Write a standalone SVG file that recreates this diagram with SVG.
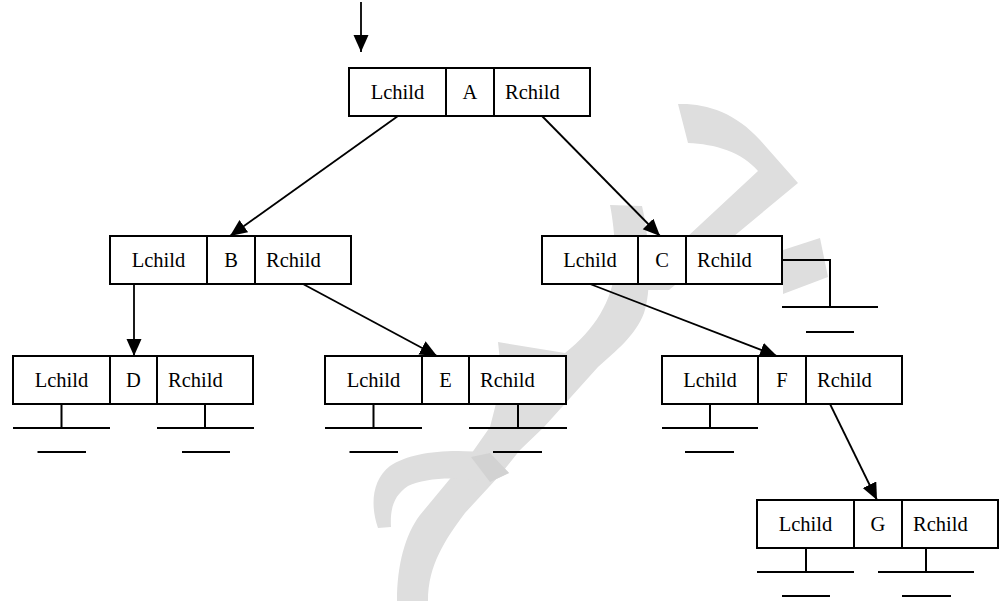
<svg xmlns="http://www.w3.org/2000/svg" width="1003" height="601" viewBox="0 0 1003 601">
<style>
.box{fill:#fff;stroke:#000;stroke-width:2}
.ln{stroke:#000;stroke-width:2;fill:none}
.gnd{stroke:#000;stroke-width:2;fill:none}
.t{font-family:"Liberation Serif","Times New Roman",serif;font-size:20.5px;fill:#000}
.m{text-anchor:middle}
.wm{fill:#dedede;stroke:none}
.edge{stroke:#000;stroke-width:1.8;fill:none;marker-end:url(#ah)}
</style>
<defs>
<marker id="ah" markerUnits="userSpaceOnUse" markerWidth="18" markerHeight="16" refX="17" refY="7.5" orient="auto">
<path d="M0,0 L17,7.5 L0,15 Z" fill="#000"/>
</marker>
</defs>
<rect width="1003" height="601" fill="#fff"/>
<g id="watermark">
<path class="wm" d="M678 104 C705 103 735 112 760 140 L798 183 L669 290 L630 290 L758 171 C742 152 715 144 688 143 Z"/>
<path class="wm" d="M610 205 L642 206 C650 240 652 290 644 313 C636 335 615 352 598 367 L544 427 L520 450 L500 475 L465 513 C445 540 428 565 428 601 L397 601 C397 565 405 535 420 515 L449 480 L469 457 L490 427 L502 380 L498 342 L565 353 C595 330 612 300 615 270 C616 245 613 220 610 205 Z"/>
<path class="wm" d="M378 528 C370 505 372 480 390 466 C410 452 450 448 490 453 L509 473 L490 482 C455 476 425 478 408 486 C393 496 390 510 391 527 Z"/>
<path fill="#d2d2d2" d="M471 457 L490 453 L509 473 L490 482 Z"/>
<path class="wm" d="M783 250 L820 238 L828 277 L783 294 Z"/>
</g>
<g id="connectors">
<line class="edge" x1="361" y1="2" x2="361" y2="52"/>
<line class="edge" x1="398" y1="116" x2="230" y2="236"/>
<line class="edge" x1="542" y1="116" x2="660" y2="236"/>
<line class="edge" x1="134" y1="284" x2="134" y2="356"/>
<line class="edge" x1="303" y1="284" x2="437" y2="356"/>
<line class="edge" x1="590" y1="284" x2="777" y2="356"/>
<line class="edge" x1="830" y1="404" x2="877" y2="500"/>
</g>
<g id="nodeA" transform="translate(349,68)">
<rect class="box" x="0" y="0" width="241" height="48"/>
<line class="ln" x1="97" y1="0" x2="97" y2="48"/><line class="ln" x1="145" y1="0" x2="145" y2="48"/>
<text class="t m" x="48.5" y="31">Lchild</text><text class="t m" x="121" y="31">A</text><text class="t" x="156" y="31">Rchild</text>
</g>
<g id="nodeB" transform="translate(110,236)">
<rect class="box" x="0" y="0" width="241" height="48"/>
<line class="ln" x1="97" y1="0" x2="97" y2="48"/><line class="ln" x1="145" y1="0" x2="145" y2="48"/>
<text class="t m" x="48.5" y="31">Lchild</text><text class="t m" x="121" y="31">B</text><text class="t" x="156" y="31">Rchild</text>
</g>
<g id="nodeC" transform="translate(542,236)">
<rect class="box" x="0" y="0" width="240" height="48"/>
<line class="ln" x1="96" y1="0" x2="96" y2="48"/><line class="ln" x1="144" y1="0" x2="144" y2="48"/>
<text class="t m" x="48" y="31">Lchild</text><text class="t m" x="120" y="31">C</text><text class="t" x="155" y="31">Rchild</text>
<path class="gnd" d="M240 24 H288 V71 M240 71 H336 M264 96 H312"/>
</g>
<g id="nodeD" transform="translate(13,356)">
<rect class="box" x="0" y="0" width="240" height="48"/>
<line class="ln" x1="97" y1="0" x2="97" y2="48"/><line class="ln" x1="144" y1="0" x2="144" y2="48"/>
<text class="t m" x="48.5" y="31">Lchild</text><text class="t m" x="120.5" y="31">D</text><text class="t" x="155" y="31">Rchild</text>
<path class="gnd" d="M48.5 48 V72 M0 72 H97 M24.5 96 H73 M192 48 V72 M144 72 H241 M169 96 H217"/>
</g>
<g id="nodeE" transform="translate(325,356)">
<rect class="box" x="0" y="0" width="241" height="48"/>
<line class="ln" x1="97" y1="0" x2="97" y2="48"/><line class="ln" x1="144" y1="0" x2="144" y2="48"/>
<text class="t m" x="48.5" y="31">Lchild</text><text class="t m" x="120.5" y="31">E</text><text class="t" x="155" y="31">Rchild</text>
<path class="gnd" d="M48.5 48 V72 M0 72 H97 M24.5 96 H73 M193 48 V72 M144 72 H242 M168 96 H217"/>
</g>
<g id="nodeF" transform="translate(662,356)">
<rect class="box" x="0" y="0" width="240" height="48"/>
<line class="ln" x1="96" y1="0" x2="96" y2="48"/><line class="ln" x1="144" y1="0" x2="144" y2="48"/>
<text class="t m" x="48" y="31">Lchild</text><text class="t m" x="120" y="31">F</text><text class="t" x="155" y="31">Rchild</text>
<path class="gnd" d="M48 48 V72 M0 72 H96 M23 96 H72"/>
</g>
<g id="nodeG" transform="translate(757,500)">
<rect class="box" x="0" y="0" width="241" height="48"/>
<line class="ln" x1="97" y1="0" x2="97" y2="48"/><line class="ln" x1="145" y1="0" x2="145" y2="48"/>
<text class="t m" x="48.5" y="31">Lchild</text><text class="t m" x="121" y="31">G</text><text class="t" x="156" y="31">Rchild</text>
<path class="gnd" d="M49 48 V72 M0 72 H97 M25 96 H73 M169 48 V72 M121 72 H217 M145 96 H194"/>
</g>
</svg>
